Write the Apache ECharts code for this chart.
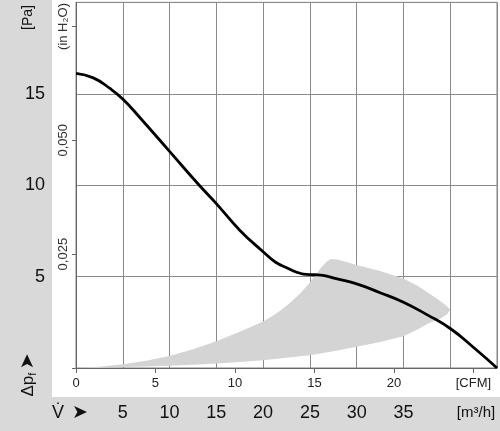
<!DOCTYPE html>
<html>
<head>
<meta charset="utf-8">
<script src="https://cdn.jsdelivr.net/npm/echarts@6/dist/echarts.min.js"></script>
<style>
html,body{margin:0;padding:0;background:#fff;}
#chart{width:500px;height:431px;}
</style>
</head>
<body>
<div id="chart"></div>
<script>
// Fan curve: air flow (m³/h) vs static pressure (Pa)
const flowM3h    = [0, 1.85, 3.63, 5.05, 6.82, 10, 13.2, 15, 17.5, 20, 21.3, 22.8, 23.6, 24.3, 25.5, 26.4, 27.7, 30, 32.5, 35, 37.5, 40, 42.5, 45];
const pressurePa = [16.12, 15.87, 15.29, 14.69, 13.7, 11.85, 9.98, 8.99, 7.54, 6.36, 5.8, 5.42, 5.24, 5.14, 5.1, 5.06, 4.9, 4.6, 4.12, 3.6, 2.92, 2.16, 1.12, 0];

// Shaded operating region (upper edge left→right, lower edge right→left)
const leafUpperM3h = [0, 2.5, 5, 7.5, 10, 12.5, 15, 17.5, 20, 21, 22, 23, 24, 25, 25.7, 26.3, 26.8, 27.2, 27.8, 29, 30, 32.5, 35, 36.5, 37.7, 38.7, 39.5, 40.0];
const leafUpperPa  = [0, 0.07, 0.2, 0.4, 0.65, 1.02, 1.47, 1.98, 2.55, 2.85, 3.2, 3.62, 4.1, 4.68, 5.15, 5.55, 5.82, 5.95, 5.95, 5.78, 5.63, 5.3, 4.9, 4.5, 4.1, 3.75, 3.45, 3.2];
const leafLowerM3h = [39.7, 39, 37.7, 36.5, 35, 32.5, 30, 27.5, 25, 22.5, 20, 17.5, 15, 12.5, 10, 7.5, 5, 2.5, 0];
const leafLowerPa  = [2.95, 2.72, 2.45, 2.1, 1.74, 1.42, 1.16, 0.92, 0.7, 0.56, 0.43, 0.33, 0.25, 0.18, 0.12, 0.08, 0.05, 0.02, 0];

// Axis ticks
const pressureTicks = [5, 10, 15];
const flowTicksM3h = [5, 10, 15, 20, 25, 30, 35];
const cfmTicks = [0, 5, 10, 15, 20];
const inH2OLabels = {'0.025': '0,025', '0.050': '0,050', '0.075': '(in H\u2082O)'};

const PA_PER_INH2O = 249.089;
const M3H_PER_CFM = 1.699;

const FONT = 'Liberation Sans, Arial, sans-serif';
const chart = echarts.init(document.getElementById('chart'), null, {renderer: 'canvas'});

const curveData = flowM3h.map((x, i) => [x, pressurePa[i]]);
const leafPoly = leafUpperM3h.map((x, i) => [x, leafUpperPa[i]])
  .concat(leafLowerM3h.map((x, i) => [x, leafLowerPa[i]]));

const option = {
  animation: false,
  backgroundColor: '#fff',
  textStyle: {fontFamily: FONT},
  grid: {left: 76, right: 2, top: 1, bottom: 63, show: true, borderColor: '#808080', borderWidth: 1, backgroundColor: 'transparent'},
  xAxis: [
    {
      type: 'value', min: 0, max: 45, interval: 5, position: 'bottom',
      axisLine: {show: true, lineStyle: {color: '#666', width: 1}},
      axisTick: {show: false},
      splitLine: {show: true, lineStyle: {color: '#8a8a8a', width: 1}},
      axisLabel: {
        margin: 36, fontSize: 18, color: '#111', fontFamily: FONT,
        formatter: v => flowTicksM3h.indexOf(v) >= 0 ? String(v) : ''
      }
    },
    {
      type: 'value', min: 0, max: 45 / M3H_PER_CFM, interval: 5, position: 'bottom', offset: 0,
      axisLine: {show: false},
      axisTick: {show: true, length: 5, lineStyle: {color: '#666'}},
      splitLine: {show: false},
      axisLabel: {
        margin: 9, fontSize: 13, color: '#222', fontFamily: FONT, showMaxLabel: false,
        formatter: v => v === 25 ? '[CFM]' : (cfmTicks.indexOf(v) >= 0 ? String(v) : '')
      }
    }
  ],
  yAxis: [
    {
      type: 'value', min: 0, max: 20, interval: 5, position: 'left',
      axisLine: {show: false},
      axisTick: {show: false},
      splitLine: {show: true, lineStyle: {color: '#8a8a8a', width: 1}},
      axisLabel: {
        margin: 31, fontSize: 18, color: '#111', fontFamily: FONT,
        formatter: v => pressureTicks.indexOf(v) >= 0 ? String(v) : ''
      }
    },
    {
      type: 'value', min: 0, max: 20 / PA_PER_INH2O, interval: 0.025, position: 'left', offset: 0,
      axisLine: {show: true, lineStyle: {color: '#666', width: 1}},
      axisTick: {show: true, length: 4, lineStyle: {color: '#666'}},
      splitLine: {show: false},
      axisLabel: {
        rotate: 90, margin: 6, fontSize: 13, color: '#333', fontFamily: FONT, showMaxLabel: false,
        formatter: v => inH2OLabels[v.toFixed(3)] || ''
      }
    }
  ],
  graphic: [
    {type: 'rect', z: -10, shape: {x: 0, y: 0, width: 52, height: 431}, style: {fill: '#d9d9d9'}, silent: true},
    {type: 'rect', z: -10, shape: {x: 0, y: 397, width: 500, height: 34}, style: {fill: '#d9d9d9'}, silent: true},
    {type: 'text', x: 28.5, y: 17.5, rotation: Math.PI / 2,
      style: {text: '[Pa]', font: '14px ' + FONT, fill: '#111', align: 'center', verticalAlign: 'middle'}},
    {type: 'text', x: 28.5, y: 375, rotation: Math.PI / 2,
      style: {text: '{a|\u0394p}{s|f} {b|\u27A4}', align: 'center', verticalAlign: 'middle', fill: '#111',
        rich: {
          a: {fontSize: 17, fontFamily: FONT, fill: '#111'},
          b: {fontSize: 19, fontFamily: 'DejaVu Sans', fill: '#111'},
          s: {fontSize: 11, fontFamily: FONT, fill: '#111', verticalAlign: 'bottom', padding: [8, 0, 0, 0]}
        }}},
    {type: 'text', x: 58, y: 413,
      style: {text: 'V\u0307', font: '18px ' + FONT, fill: '#111', align: 'center', verticalAlign: 'middle'}},
    {type: 'text', x: 80, y: 413,
      style: {text: '\u27A4', font: '19px DejaVu Sans', fill: '#111', align: 'center', verticalAlign: 'middle'}},
    {type: 'text', x: 476, y: 413,
      style: {text: '[m\u00B3/h]', font: '15px ' + FONT, fill: '#111', align: 'center', verticalAlign: 'middle'}}
  ],
  series: [
    {
      type: 'custom', xAxisIndex: 0, yAxisIndex: 0, z: 1, silent: true,
      data: [[0, 0]],
      renderItem: (params, api) => ({
        type: 'polygon',
        shape: {points: leafPoly.map(p => api.coord(p))},
        style: {fill: '#d4d4d4', stroke: null}
      })
    },
    {
      type: 'line', xAxisIndex: 0, yAxisIndex: 0, z: 5,
      data: curveData, smooth: true, symbol: 'none',
      lineStyle: {color: '#000', width: 2.8}
    }
  ]
};
chart.setOption(option);
</script>
</body>
</html>
